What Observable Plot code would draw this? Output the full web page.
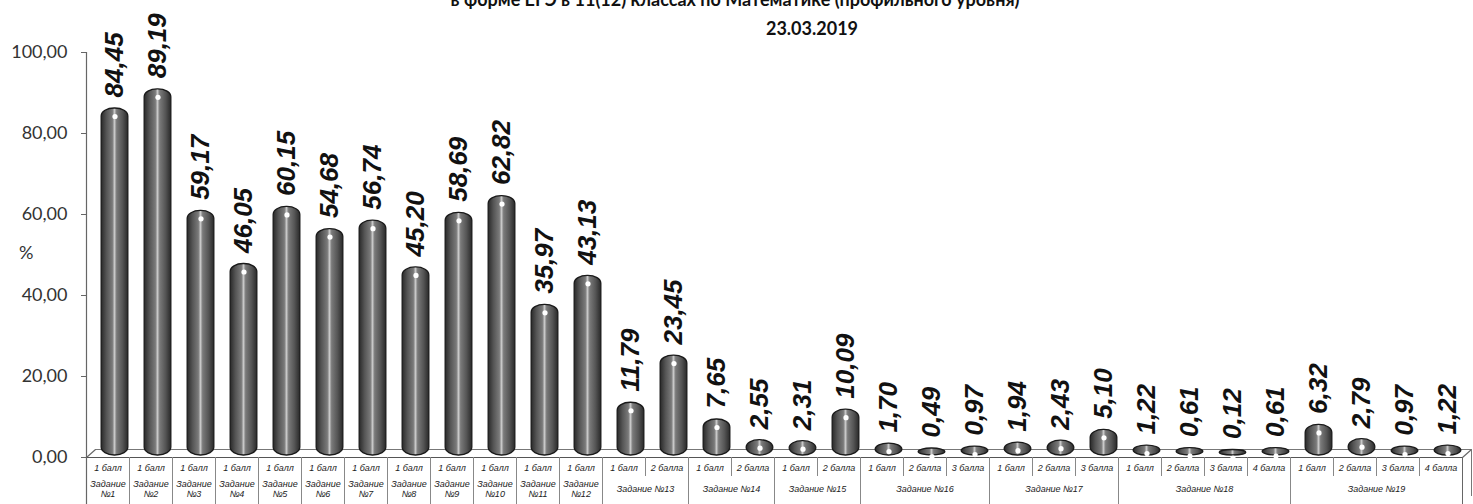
<!DOCTYPE html>
<html>
<head>
<meta charset="utf-8">
<script src="https://cdn.jsdelivr.net/npm/d3@7"></script>
<script src="https://cdn.jsdelivr.net/npm/@observablehq/plot@0.6"></script>
<style>
  html, body { margin: 0; padding: 0; background: #fff; }
  #wrap { position: relative; width: 1473px; height: 504px; overflow: hidden; }
  .ttl { position: absolute; font-family: Lato, "Open Sans", sans-serif; font-weight: bold; font-size: 18px; color: #111; white-space: nowrap; transform: translateX(-50%); }
  #pct { position: absolute; left: 19px; top: 241px; font-family: Lato, sans-serif; font-size: 18px; color: #333; }
</style>
</head>
<body>
<div id="wrap"></div>
<script>
// ---- data ----
const titleLine = "в форме ЕГЭ в 11(12) классах по Математике (профильного уровня)";
const dateLine = "23.03.2019";
const tasks = [1,2,3,4,5,6,7,8,9,10,11,12,13,13,14,14,15,15,16,16,16,17,17,17,18,18,18,18,19,19,19,19];
const points = ["1 балл","1 балл","1 балл","1 балл","1 балл","1 балл","1 балл","1 балл","1 балл","1 балл","1 балл","1 балл",
  "1 балл","2 балла","1 балл","2 балла","1 балл","2 балла",
  "1 балл","2 балла","3 балла","1 балл","2 балла","3 балла",
  "1 балл","2 балла","3 балла","4 балла","1 балл","2 балла","3 балла","4 балла"];
const values = [84.45,89.19,59.17,46.05,60.15,54.68,56.74,45.20,58.69,62.82,35.97,43.13,
  11.79,23.45,7.65,2.55,2.31,10.09,1.70,0.49,0.97,1.94,2.43,5.10,1.22,0.61,0.12,0.61,6.32,2.79,0.97,1.22];
const yTicks = [0,20,40,60,80,100];

// ---- derived tables ----
const fmt = v => v.toFixed(2).replace(".", ",");
const bars = values.map((v, i) => ({i, task: tasks[i], point: points[i], value: v, label: fmt(v)}));
const groups = [];
for (const t of [...new Set(tasks)]) {
  const idx = tasks.map((d, i) => d === t ? i : -1).filter(i => i >= 0);
  const first = idx[0], last = idx[idx.length - 1];
  groups.push({task: t, first, last, center: (first + last) / 2,
    label: first === last ? `Задание\n№${t}` : `Задание №${t}`});
}
const innerBounds = [], groupBounds = [];
for (let i = 0; i < tasks.length - 1; i++) {
  (tasks[i] === tasks[i + 1] ? innerBounds : groupBounds).push(i + 0.5);
}

// layout constants (pixels)
const W = 1473, H = 504, mL = 86, mR = 11, mT = 52, mB = 47;
const pxPerX = (W - mL - mR) / tasks.length;
const pxPerY = (H - mT - mB) / 100;
const yBottom = -mB / pxPerY;        // bottom of table in data units
const yRow1 = -19 / pxPerY;          // bottom of first table row
const depthX = 9, depthY = 8;        // 3D floor depth (px)
const xmin = -0.5, xmax = tasks.length - 0.5;

const txt = {fontFamily: "Arial, 'Liberation Sans', sans-serif", fontStyle: "italic", fontSize: 9, fill: "#222"};

const chart = Plot.plot({
  width: W, height: H,
  marginLeft: mL, marginRight: mR, marginTop: mT, marginBottom: mB,
  style: {fontFamily: "Lato, 'Open Sans', sans-serif", background: "#fff", overflow: "visible"},
  x: {type: "linear", domain: [xmin, xmax], axis: null},
  y: {domain: [0, 100], axis: null},
  marks: [
    // floor back edge and sides
    Plot.ruleY([0], {x1: xmin, x2: xmax, dx: depthX, dy: -depthY, stroke: "#777", strokeWidth: 1.2}),
    Plot.link([{x: xmin}, {x: xmax}], {x1: "x", y1: 0, x2: d => d.x + depthX / pxPerX, y2: depthY / pxPerY, stroke: "#666", strokeWidth: 1.2}),
    // table side (3D)
    Plot.ruleX([xmax], {y1: yBottom, y2: 0, dx: depthX, dy: -depthY, stroke: "#777"}),
    // table lines
    Plot.ruleY([0], {x1: xmin, x2: xmax, stroke: "#555", strokeWidth: 1.2}),
    Plot.ruleX(innerBounds, {y1: yRow1, y2: 0, stroke: "#888"}),
    Plot.ruleX(groupBounds, {y1: yBottom, y2: 0, stroke: "#888"}),
    Plot.ruleX([xmax], {y1: yBottom, y2: 0, stroke: "#666"}),
    // y axis
    Plot.ruleX([xmin], {y1: yBottom, y2: 100, stroke: "#666", strokeWidth: 1.2}),
    Plot.axisY({ticks: yTicks, tickFormat: fmt, tickSize: 5, tickPadding: 14, fontSize: 18, stroke: "#666", fill: "#333", label: null}),
    // cylinders
    Plot.rectY(bars, {x1: d => d.i - 0.31, x2: d => d.i + 0.31, y: "value",
      fill: "url(#cyl)", stroke: "#1a1a1a", strokeWidth: 1.3, rx: 13, ry: 8,
      insetTop: -2, insetBottom: -3, dx: 7, dy: -5}),
    Plot.dot(bars, {x: "i", y: "value", r: 2.6, fill: "#fff", stroke: null, dx: 7, dy: 1}),
    // value labels
    Plot.text(bars, {x: "i", y: "value", text: "label", rotate: -90, textAnchor: "start", lineAnchor: "middle",
      dx: 7, dy: -18, fontSize: 26, fontWeight: "bold", fontStyle: "italic",
      fontFamily: "Arial, 'Liberation Sans', sans-serif", fill: "#111"}),
    // table text
    Plot.text(bars, {x: "i", text: "point", frameAnchor: "bottom", dy: 11, lineAnchor: "middle", ...txt}),
    Plot.text(groups, {x: "center", text: "label", frameAnchor: "bottom", dy: 31, lineAnchor: "middle", lineHeight: 1.1, ...txt})
  ]
});

const ns = "http://www.w3.org/2000/svg";
const defs = document.createElementNS(ns, "defs");
defs.innerHTML = `<linearGradient id="cyl" x1="0" x2="1" y1="0" y2="0">
  <stop offset="0" stop-color="#2a2a2a"/>
  <stop offset="0.2" stop-color="#555"/>
  <stop offset="0.42" stop-color="#7a7a7a"/>
  <stop offset="0.5" stop-color="#c8c8c8"/>
  <stop offset="0.58" stop-color="#7a7a7a"/>
  <stop offset="0.8" stop-color="#555"/>
  <stop offset="1" stop-color="#2a2a2a"/>
</linearGradient>`;
chart.insertBefore(defs, chart.firstChild);

const wrap = document.getElementById("wrap");
wrap.appendChild(chart);
const t1 = document.createElement("div");
t1.className = "ttl"; t1.textContent = titleLine; t1.style.left = "735px"; t1.style.top = "-12px";
const t2 = document.createElement("div");
t2.className = "ttl"; t2.textContent = dateLine; t2.style.left = "812px"; t2.style.top = "17px";
const pct = document.createElement("div");
pct.id = "pct"; pct.textContent = "%";
wrap.append(t1, t2, pct);
</script>
</body>
</html>
